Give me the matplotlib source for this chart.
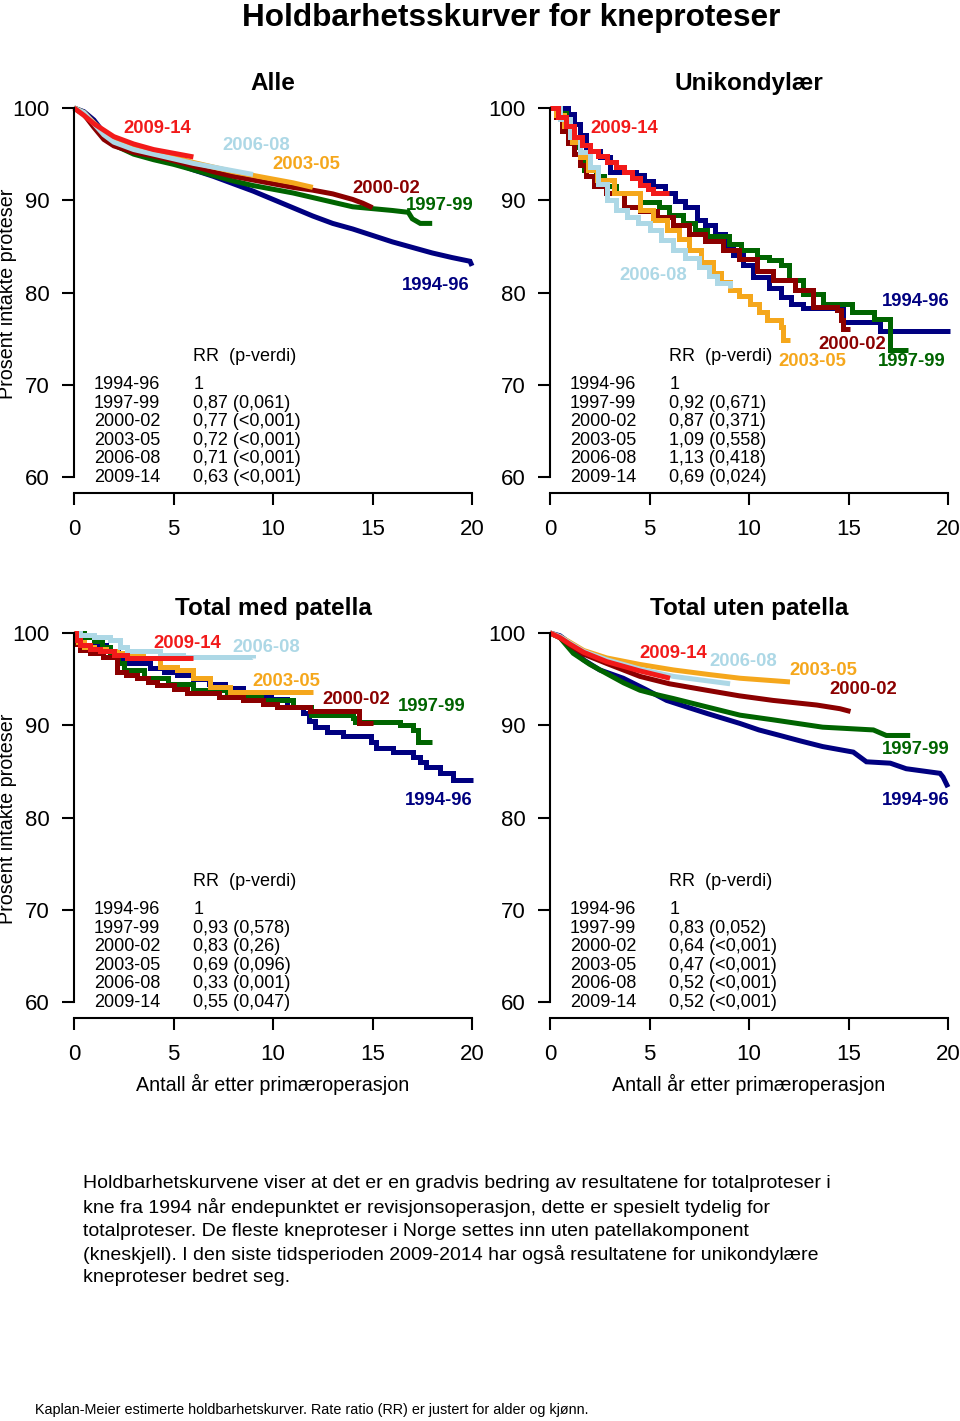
import matplotlib.pyplot as plt

plt.rcParams['font.family'] = ['Liberation Sans', 'DejaVu Sans']

W, H = 960, 1421

PERIODS = ['1994-96', '1997-99', '2000-02', '2003-05', '2006-08', '2009-14']
COLORS = ['#000080', '#006400', '#8B0000', '#F5A71C', '#ADD8E6', '#F21A1A']

# ---- Alle ----
alle_t = [
    [0, 0.5, 1, 1.5, 2, 3, 4, 5, 6, 7, 8, 9, 10, 11, 12, 13, 14, 15, 16, 17, 18, 19, 19.9, 20],
    [0, 0.5, 1, 1.5, 2, 3, 4, 5, 6, 7, 8, 9, 10, 11, 12, 13, 14, 15, 16, 16.8, 17.0, 17.4, 18],
    [0, 0.5, 1, 1.5, 2, 3, 4, 5, 6, 7, 8, 9, 10, 11, 12, 13, 14, 14.5, 15],
    [0, 0.5, 1, 1.5, 2, 3, 4, 5, 6, 7, 8, 9, 10, 11, 12],
    [0, 0.5, 1, 1.5, 2, 3, 4, 5, 6, 7, 8, 9],
    [0, 0.5, 1, 1.5, 2, 3, 4, 5, 6],
]
alle_s = [
    [100, 99.6, 98.7, 97.3, 96.4, 95.3, 94.6, 94.1, 93.3, 92.6, 91.8, 91.0, 90.1, 89.2, 88.3, 87.5, 86.9, 86.2, 85.5, 84.9, 84.3, 83.8, 83.4, 82.9],
    [100, 99.5, 98.3, 96.8, 96.0, 95.0, 94.4, 93.9, 93.3, 92.7, 92.1, 91.6, 91.2, 90.8, 90.3, 89.8, 89.3, 89.1, 88.9, 88.7, 88.0, 87.5, 87.5],
    [100, 99.3, 97.9, 96.6, 95.9, 95.2, 94.8, 94.3, 93.7, 93.1, 92.6, 92.2, 91.8, 91.4, 91.1, 90.7, 90.1, 89.7, 89.2],
    [100, 99.5, 98.4, 97.4, 96.7, 95.9, 95.3, 94.7, 94.1, 93.6, 93.1, 92.7, 92.3, 91.9, 91.4],
    [100, 99.5, 98.3, 97.1, 96.3, 95.5, 95.0, 94.5, 94.0, 93.6, 93.2, 92.8],
    [100, 99.2, 98.3, 97.6, 96.9, 96.1, 95.5, 95.1, 94.7],
]
alle_rr = ['1', '0,87 (0,061)', '0,77 (<0,001)', '0,72 (<0,001)', '0,71 (<0,001)', '0,63 (<0,001)']
alle_lab = [(18.19, 80.8), (18.39, 89.4), (15.68, 91.3), (11.66, 93.9), (9.15, 95.9), (4.17, 97.8)]

# ---- Unikondylær ----
uni_t = [
    [0, 0.9, 1.2, 1.5, 1.8, 2.5, 3.0, 4.3, 4.7, 5.2, 5.8, 6.3, 6.8, 7.4, 7.8, 8.3, 8.8, 9.2, 9.7, 10.2, 11.0, 11.6, 12.1, 12.7, 14.7, 16.6, 20.1],
    [0, 0.5, 0.8, 1.0, 1.2, 1.5, 1.7, 2.3, 2.7, 3.3, 4.5, 5.5, 6.0, 6.7, 7.3, 7.9, 9.0, 9.6, 10.4, 11.0, 11.6, 12.0, 12.7, 13.7, 15.2, 16.3, 17.1, 18.0],
    [0, 0.3, 0.6, 0.9, 1.2, 1.5, 1.8, 2.2, 2.8, 3.7, 4.5, 5.4, 6.2, 7.0, 7.8, 8.7, 9.5, 10.4, 11.2, 12.3, 13.2, 14.4, 14.6, 14.7, 15.1],
    [0, 0.3, 0.7, 1.1, 1.5, 1.9, 2.35, 3.2, 4.5, 5.2, 5.9, 6.5, 7.0, 7.6, 8.2, 8.6, 9.05, 9.5, 10.05, 10.5, 10.9, 11.6, 11.7, 12.06],
    [0, 0.5, 1.0, 1.5, 2.0, 2.4, 2.85, 3.3, 3.85, 4.4, 5.0, 5.6, 6.2, 6.8, 7.5, 8.0, 8.4, 9.05],
    [0, 0.4, 0.8, 1.2, 1.6, 2.0, 2.4, 2.85, 3.3, 3.7, 4.1, 4.5, 4.9, 5.2, 6.0],
]
uni_s = [
    [100, 99.4, 98.3, 97.1, 95.3, 94.7, 93.1, 92.7, 92.1, 91.5, 90.8, 89.9, 89.3, 87.9, 87.3, 86.4, 85.2, 84.1, 83.0, 81.7, 80.5, 79.5, 78.8, 78.3, 76.8, 75.9, 75.9],
    [100, 99.5, 98.5, 97.0, 95.8, 94.4, 93.3, 92.6, 91.5, 90.8, 89.8, 89.3, 88.4, 87.5, 86.8, 86.1, 85.3, 84.6, 83.9, 83.5, 83.0, 81.4, 79.9, 78.8, 77.9, 77.2, 73.8, 73.8],
    [100, 99.0, 97.5, 96.2, 95.0, 93.8, 92.6, 91.6, 90.8, 89.3, 88.8, 88.2, 87.3, 86.4, 85.6, 84.6, 83.6, 82.3, 81.4, 80.3, 78.5, 78.1, 77.0, 76.1, 76.1],
    [100, 99.2, 98.0, 96.3, 94.7, 93.3, 92.2, 90.75, 88.9, 87.9, 86.8, 85.8, 84.6, 83.3, 82.1, 81.2, 80.3, 79.6, 78.8, 77.9, 77.0, 76.3, 74.85, 74.85],
    [100, 98.8, 96.9, 95.2, 93.6, 91.8, 90.0, 89.0, 88.2, 87.5, 86.8, 85.7, 84.6, 83.7, 82.8, 81.8, 81.0, 80.5],
    [100, 99.0, 98.0, 96.9, 96.0, 95.3, 94.8, 94.2, 93.6, 93.1, 92.4, 91.7, 91.2, 90.75, 90.75],
]
uni_rr = ['1', '0,92 (0,671)', '0,87 (0,371)', '1,09 (0,558)', '1,13 (0,418)', '0,69 (0,024)']
uni_lab = [(18.39, 79.0), (18.19, 72.5), (15.18, 74.4), (13.17, 72.5), (5.18, 81.9), (3.72, 97.8)]

# ---- Total med patella ----
med_t = [
    [0, 0.5, 1.0, 1.6, 2.2, 2.7, 3.8, 4.5, 5.2, 6.0, 6.8, 7.6, 8.5, 9.9, 10.7, 11.5, 11.8, 12.1, 12.7, 13.5, 14.9, 15.2, 16.05, 17.05, 17.4, 17.7, 18.4, 19.06, 20.05],
    [0, 0.5, 1.0, 1.4, 1.8, 2.2, 2.5, 3.5, 4.7, 6.0, 7.7, 9.4, 11.0, 11.9, 14.0, 14.1, 16.4, 17.05, 17.3, 18.0],
    [0, 0.1, 0.3, 0.8, 1.47, 2.15, 2.6, 3.15, 3.7, 4.15, 5.0, 5.66, 7.3, 8.5, 9.5, 10.2, 11.86, 14.3, 15.0],
    [0, 0.2, 0.5, 1.0, 1.6, 2.15, 3.0, 3.48, 4.32, 5.16, 6.0, 6.83, 7.84, 12.0],
    [0, 0.3, 1.0, 1.8, 2.3, 2.65, 4.32, 5.5, 9.0],
    [0, 0.1, 0.3, 0.8, 1.3, 2.0, 2.65, 6.0],
]
med_s = [
    [100, 99.6, 98.7, 98.1, 97.2, 96.7, 96.2, 95.8, 95.4, 95.0, 94.5, 94.0, 93.3, 92.9, 92.0, 91.3, 90.5, 89.8, 89.3, 88.8, 88.2, 87.5, 87.1, 86.6, 86.0, 85.5, 84.8, 84.1, 84.1],
    [100, 99.6, 99.1, 98.5, 97.8, 96.8, 96.0, 95.1, 94.5, 93.8, 93.3, 92.7, 92.0, 91.1, 90.75, 90.4, 90.0, 89.5, 88.2, 88.2],
    [100, 98.8, 98.2, 97.8, 97.4, 95.8, 95.4, 95.1, 94.7, 94.4, 93.9, 93.5, 93.1, 92.7, 92.3, 92.0, 91.5, 90.2, 90.2],
    [100, 99.0, 98.5, 98.3, 98.0, 97.8, 97.5, 97.3, 96.35, 96.0, 95.1, 94.2, 93.6, 93.6],
    [100, 99.8, 99.6, 99.2, 98.5, 98.0, 97.6, 97.4, 97.3],
    [100, 99.2, 98.7, 98.3, 98.0, 97.6, 97.3, 97.3],
]
med_rr = ['1', '0,93 (0,578)', '0,83 (0,26)', '0,69 (0,096)', '0,33 (0,001)', '0,55 (0,047)']
med_lab = [(18.34, 81.9), (18.0, 92.0), (14.17, 92.85), (10.65, 94.8), (9.65, 98.4), (5.68, 98.9)]

# ---- Total uten patella ----
uten_t = [
    [0, 0.5, 1.0, 1.68, 2.5, 3.68, 4.8, 5.86, 7.0, 7.87, 9.55, 10.5, 11.56, 12.6, 13.7, 15.24, 15.9, 17.1, 17.9, 19.6, 19.75, 20.0],
    [0, 0.5, 1.17, 2.0, 2.85, 3.7, 4.52, 5.4, 6.2, 7.87, 9.55, 11.2, 13.7, 16.25, 16.9, 18.1],
    [0, 0.5, 1.0, 1.7, 2.85, 4.52, 6.0, 7.87, 9.5, 11.2, 13.4, 14.57, 15.1],
    [0, 0.5, 1.0, 1.7, 2.85, 4.5, 6.2, 8.0, 9.55, 12.06],
    [0, 0.5, 1.0, 1.7, 2.85, 4.5, 6.2, 9.05],
    [0, 0.5, 1.0, 1.7, 2.85, 4.5, 6.03],
]
uten_s = [
    [100, 99.7, 98.9, 97.1, 96.0, 95.1, 93.9, 92.7, 91.9, 91.3, 90.2, 89.5, 88.9, 88.3, 87.7, 87.1, 86.05, 85.9, 85.3, 84.8, 84.4, 83.3],
    [100, 99.5, 97.8, 96.6, 95.6, 94.6, 93.8, 93.3, 92.9, 92.0, 91.1, 90.6, 89.8, 89.5, 88.9, 88.9],
    [100, 99.5, 98.7, 97.7, 96.7, 95.3, 94.5, 93.8, 93.2, 92.7, 92.2, 91.8, 91.5],
    [100, 99.6, 99.0, 98.1, 97.3, 96.6, 96.0, 95.5, 95.1, 94.7],
    [100, 99.6, 98.9, 98.0, 97.1, 96.1, 95.3, 94.5],
    [100, 99.5, 98.8, 97.9, 96.9, 95.9, 95.1],
]
uten_rr = ['1', '0,83 (0,052)', '0,64 (<0,001)', '0,47 (<0,001)', '0,52 (<0,001)', '0,52 (<0,001)']
uten_lab = [(18.39, 81.9), (18.39, 87.4), (15.73, 93.9), (13.72, 95.9), (9.7, 96.9), (6.18, 97.8)]

panels = [
    ('Alle', alle_t, alle_s, alle_rr, alle_lab, 74, 108, 'default'),
    ('Unikondylær', uni_t, uni_s, uni_rr, uni_lab, 550, 108, 'steps-post'),
    ('Total med patella', med_t, med_s, med_rr, med_lab, 74, 633, 'steps-post'),
    ('Total uten patella', uten_t, uten_s, uten_rr, uten_lab, 550, 633, 'default'),
]

fig = plt.figure(figsize=(W / 100, H / 100), dpi=100)

for i, (title, ts, ss, rr, labs, x0, y100, ds) in enumerate(panels):
    # y=100 at pixel y100, 60 at y100+369; bottom axis line at y100+385
    ax = fig.add_axes([x0 / W, 1 - (y100 + 385) / H, 398 / W, 385 / H])
    ax.set_xlim(0, 20)
    ax.set_ylim(58.3, 100)
    for t, s, c in zip(ts, ss, COLORS):
        ax.plot(t, s, color=c, lw=3.6, drawstyle=ds, clip_on=False,
                solid_capstyle='butt', solid_joinstyle='miter')
    for (lx, ly), p, c in zip(labs, PERIODS, COLORS):
        ax.text(lx, ly, p, color=c, fontsize=13.3, fontweight='bold',
                ha='center', va='center')
    ax.text(6.0, 73.1, 'RR  (p-verdi)', fontsize=13, ha='left', va='center')
    for k, (p, r) in enumerate(zip(PERIODS, rr)):
        yv = 70 - 2 * k
        ax.text(1.0, yv, p, fontsize=13, ha='left', va='center')
        ax.text(6.0, yv, r, fontsize=13, ha='left', va='center')

    for sp in ['top', 'right']:
        ax.spines[sp].set_visible(False)
    ax.spines['left'].set_bounds(60, 100)
    ax.spines['bottom'].set_bounds(0, 20)
    ax.spines['left'].set_linewidth(1.5)
    ax.spines['bottom'].set_linewidth(1.5)
    ax.set_yticks([60, 70, 80, 90, 100])
    ax.set_xticks([0, 5, 10, 15, 20])
    ax.tick_params(axis='both', direction='out', length=8.6, width=1.5, labelsize=16)
    ax.tick_params(axis='y', pad=9)
    ax.tick_params(axis='x', pad=10)
    ax.set_title(title, fontsize=17.5, fontweight='bold', pad=13)
    if i % 2 == 0:
        fig.text(8 / W, 1 - (y100 + 186) / H, 'Prosent intakte proteser', rotation=90,
                 fontsize=14.2, ha='center', va='center')
    if i >= 2:
        fig.text((x0 + 199) / W, 1 - 1084 / H, 'Antall år etter primæroperasjon',
                 fontsize=14.2, ha='center', va='center')

fig.text(511 / W, 1 - 26 / H, 'Holdbarhetsskurver for kneproteser', fontsize=22.7,
         fontweight='bold', ha='center', va='baseline')

body_lines = [
    "Holdbarhetskurvene viser at det er en gradvis bedring av resultatene for totalproteser i",
    "kne fra 1994 når endepunktet er revisjonsoperasjon, dette er spesielt tydelig for",
    "totalproteser. De fleste kneproteser i Norge settes inn uten patellakomponent",
    "(kneskjell). I den siste tidsperioden 2009-2014 har også resultatene for unikondylære",
    "kneproteser bedret seg.",
]
for k, line in enumerate(body_lines):
    fig.text(83 / W, 1 - (1184 + 23.5 * k) / H, line, fontsize=14.0, ha='left', va='center')
fig.text(35 / W, 1 - 1410 / H,
         'Kaplan-Meier estimerte holdbarhetskurver. Rate ratio (RR) er justert for alder og kjønn.',
         fontsize=10.4, ha='left', va='center')

fig.savefig('out.png', dpi=100)
